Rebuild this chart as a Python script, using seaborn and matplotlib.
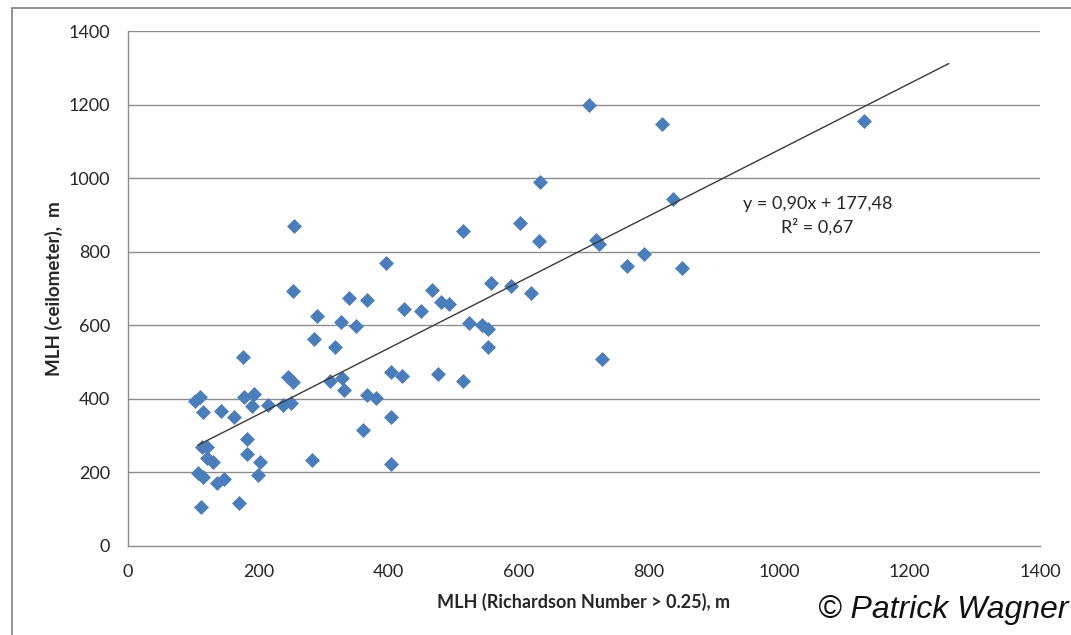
import matplotlib
matplotlib.use("Agg")
import matplotlib.pyplot as plt
import seaborn as sns
import pandas as pd
from matplotlib.patches import Rectangle

# Data
mlh_richardson = [103, 110, 115, 143, 162, 177, 178, 193, 190, 215, 238, 250, 245, 253,
                  113, 122, 122, 130, 182, 182, 202, 199, 108, 115, 137, 147, 283, 112, 170,
                  255, 253, 514, 396, 290, 285, 317, 327, 350, 340, 367, 423, 450, 466, 480,
                  493, 558, 523, 543, 552, 552, 310, 328, 331, 367, 380, 404, 420, 476, 514,
                  403, 361, 403, 633, 836, 602, 631, 718, 723, 766, 792, 850, 588, 619, 728,
                  1130, 707, 820]
mlh_ceilometer = [393, 405, 363, 367, 352, 513, 405, 412, 380, 383, 382, 390, 460, 446,
                  268, 268, 240, 228, 292, 250, 228, 193, 198, 188, 170, 183, 233, 107, 118,
                  870, 694, 857, 769, 625, 563, 540, 610, 598, 675, 670, 643, 640, 695, 662,
                  658, 715, 607, 602, 590, 540, 448, 458, 425, 410, 402, 474, 462, 468, 448,
                  350, 315, 222, 990, 942, 879, 828, 832, 820, 761, 793, 755, 707, 688, 508,
                  1155, 1200, 1148]

trend_slope = 0.90
trend_intercept = 177.48
trend_x = [107, 1260]
equation_text = "y = 0,90x + 177,48"
r2_text = "R² = 0,67"
x_ticks = [0, 200, 400, 600, 800, 1000, 1200, 1400]
y_ticks = [0, 200, 400, 600, 800, 1000, 1200, 1400]

df = pd.DataFrame({"x": mlh_richardson, "y": mlh_ceilometer})

sns.set_style("white")
plt.rcParams["font.family"] = ["Lato", "DejaVu Sans"]

fig = plt.figure(figsize=(10.71, 6.35), dpi=100)
ax = fig.add_axes([128 / 1071, 1 - 546 / 635, (1040 - 128) / 1071, (546 - 31) / 635])

# outer chart border
fig.patches.append(Rectangle((12 / 1071, -0.2), 1.2, 1.2 - 8 / 635,
                             transform=fig.transFigure, fill=False,
                             edgecolor="#8a8a8a", linewidth=1.3, zorder=0))

ax.set_xlim(0, 1400)
ax.set_ylim(0, 1400)
ax.set_xticks(x_ticks)
ax.set_yticks(y_ticks)
for yv in y_ticks[1:]:
    ax.axhline(yv, color="#8c8c8c", linewidth=1.0, zorder=0)

trend_y = [trend_slope * v + trend_intercept for v in trend_x]
ax.plot(trend_x, trend_y, color="#3a3a3a", linewidth=1.0, zorder=3)

sns.scatterplot(data=df, x="x", y="y", marker="D", s=58, color="#4A7DBA",
                linewidth=0, ax=ax, zorder=2)

for side in ["top", "right"]:
    ax.spines[side].set_visible(False)
for side in ["left", "bottom"]:
    ax.spines[side].set_color("#8c8c8c")
    ax.spines[side].set_linewidth(1.0)

ax.tick_params(axis="both", direction="out", length=4, width=1.0, color="#8c8c8c",
               labelsize=13, labelcolor="#262626")
ax.tick_params(axis="y", pad=9)
ax.tick_params(axis="x", pad=9)

ax.set_xlabel("MLH (Richardson Number > 0.25), m", fontsize=13, fontweight="bold",
              color="#262626", labelpad=9)
ax.set_ylabel("MLH (ceilometer),  m", fontsize=13.5, fontweight="bold",
              color="#262626", labelpad=4)

ax.text(1058, 930, equation_text, ha="center", va="center", fontsize=13, color="#262626")
ax.text(1058, 866, r2_text, ha="center", va="center", fontsize=13, color="#262626")

fig.text(1068 / 1071, 1 - 610 / 635, "© Patrick Wagner", ha="right", va="center",
         fontsize=23, style="italic", family=["Liberation Sans", "DejaVu Sans"],
         color="#111111")

fig.savefig("out.png", dpi=100)
